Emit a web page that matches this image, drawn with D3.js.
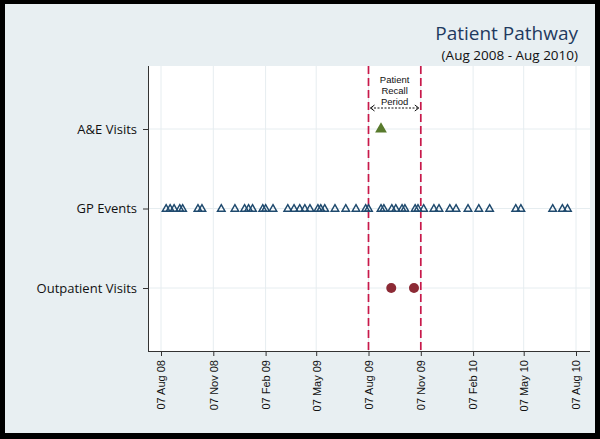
<!DOCTYPE html>
<html>
<head>
<meta charset="utf-8">
<script src="https://cdn.jsdelivr.net/npm/d3@7"></script>
<style>
  body { margin: 0; background: #000; }
  svg { display: block; }
</style>
</head>
<body>
<script>
// canvas size
const width = 600;
const height = 439;

// plot area margins
const margin = { top: 66, right: 10, bottom: 88, left: 148 };

// rows of the y axis (top to bottom)
const rows = ['A&E Visits', 'GP Events', 'Outpatient Visits'];

// event dates
const aeDates = ['2009-08-29'];
const gpDates = [
  '2008-08-16', '2008-08-23', '2008-08-30', '2008-09-09', '2008-09-14',
  '2008-10-11', '2008-10-18', '2008-11-21', '2008-12-15', '2009-01-01',
  '2009-01-08', '2009-01-15', '2009-02-02', '2009-02-07', '2009-02-20',
  '2009-03-18', '2009-03-29', '2009-04-08', '2009-04-17', '2009-04-26',
  '2009-05-10', '2009-05-15', '2009-05-22', '2009-06-09', '2009-06-28',
  '2009-07-16', '2009-08-02', '2009-08-07', '2009-08-29', '2009-09-03',
  '2009-09-17', '2009-09-24', '2009-10-05', '2009-10-10', '2009-10-28',
  '2009-11-02', '2009-11-12', '2009-11-30', '2009-12-09', '2009-12-28',
  '2010-01-08', '2010-01-29', '2010-02-17', '2010-03-08', '2010-04-23',
  '2010-05-02', '2010-06-27', '2010-07-14', '2010-07-23'
];
const outpatientDates = ['2009-09-16', '2009-10-26'];

// recall period limits
const recallPeriod = ['2009-08-07', '2009-11-07'];
const recallLabel = ['Patient', 'Recall', 'Period'];

// x tick dates
const tickDates = [
  '2008-08-07', '2008-11-07', '2009-02-07', '2009-05-07', '2009-08-07',
  '2009-11-07', '2010-02-07', '2010-05-07', '2010-08-07'
];

const parse = d3.timeParse('%Y-%m-%d');

const svg = d3.select('body').append('svg')
  .attr('width', width).attr('height', height);

// background panel inside the black frame
svg.append('rect')
  .attr('x', 5).attr('y', 4)
  .attr('width', 590).attr('height', 429)
  .attr('fill', '#e8eff2');

const plotW = width - margin.left - margin.right;
const plotH = height - margin.top - margin.bottom;

svg.append('rect')
  .attr('x', margin.left).attr('y', margin.top)
  .attr('width', plotW).attr('height', plotH)
  .attr('fill', '#ffffff');

const x = d3.scaleTime()
  .domain([parse('2008-08-07'), parse('2010-08-07')])
  .range([161, 576]);

const y = d3.scalePoint()
  .domain(rows)
  .range([margin.top + 63, margin.top + 222]);

const g = svg.append('g');

// grid lines
g.selectAll('.vgrid')
  .data(tickDates)
  .enter()
  .append('line')
  .attr('x1', d => x(parse(d))).attr('x2', d => x(parse(d)))
  .attr('y1', margin.top).attr('y2', margin.top + plotH)
  .attr('stroke', '#e6edf0').attr('stroke-width', 1);

g.selectAll('.hgrid')
  .data(rows)
  .enter()
  .append('line')
  .attr('x1', margin.left).attr('x2', margin.left + plotW)
  .attr('y1', d => y(d)).attr('y2', d => y(d))
  .attr('stroke', '#e6edf0').attr('stroke-width', 1);

// x axis
const xAxis = svg.append('g')
  .attr('transform', `translate(0,${margin.top + plotH})`)
  .call(d3.axisBottom(x)
    .tickValues(tickDates.map(parse))
    .tickFormat(d3.timeFormat('%d %b %y'))
    .tickSize(5)
    .tickSizeOuter(0));
xAxis.select('.domain')
  .attr('d', `M${margin.left},0.5H${margin.left + plotW}`)
  .attr('stroke', '#333');
xAxis.selectAll('.tick line').attr('stroke', '#333');
xAxis.selectAll('.tick text')
  .attr('font-family', 'Liberation Sans, Arial, sans-serif')
  .attr('font-size', '11px')
  .attr('fill', '#111')
  .attr('transform', 'rotate(-90)')
  .attr('text-anchor', 'end')
  .attr('x', -9)
  .attr('y', 0)
  .attr('dy', '0.35em');

// y axis
const yAxis = svg.append('g')
  .attr('transform', `translate(${margin.left},0)`)
  .call(d3.axisLeft(y).tickSize(5).tickSizeOuter(0).tickPadding(6));
yAxis.select('.domain')
  .attr('d', `M0.5,${margin.top}V${margin.top + plotH}`)
  .attr('stroke', '#333');
yAxis.selectAll('.tick line').attr('stroke', '#333');
yAxis.selectAll('.tick text')
  .attr('font-family', 'Open Sans, Noto Sans, sans-serif')
  .attr('font-size', '13px')
  .attr('fill', '#111');

// recall period lines
svg.selectAll('.recall')
  .data(recallPeriod)
  .enter()
  .append('line')
  .attr('x1', d => x(parse(d))).attr('x2', d => x(parse(d)))
  .attr('y1', margin.top).attr('y2', margin.top + plotH)
  .attr('stroke', '#c8194a')
  .attr('stroke-width', 1.7)
  .attr('stroke-dasharray', '8,4');

// recall annotation, one text per line
const x0 = x(parse(recallPeriod[0]));
const x1 = x(parse(recallPeriod[1]));
const xm = (x0 + x1) / 2;
svg.selectAll('.recall-label')
  .data(recallLabel)
  .enter()
  .append('text')
  .attr('x', xm)
  .attr('y', (d, i) => 83 + i * 11)
  .attr('text-anchor', 'middle')
  .attr('font-family', 'Liberation Sans, Arial, sans-serif')
  .attr('font-size', '9.5px')
  .attr('fill', '#111')
  .text(d => d);

svg.append('line')
  .attr('x1', x0 + 2).attr('x2', x1 - 2)
  .attr('y1', 108).attr('y2', 108)
  .attr('stroke', '#111').attr('stroke-width', 1)
  .attr('stroke-dasharray', '2,1.5');
svg.append('path')
  .attr('d', `M${x0 + 6},105 L${x0 + 2},108 L${x0 + 6},111 M${x1 - 6},105 L${x1 - 2},108 L${x1 - 6},111`)
  .attr('fill', 'none').attr('stroke', '#111').attr('stroke-width', 1);

// GP events: open triangles
const tri = d3.symbol().type(d3.symbolTriangle).size(24);
svg.selectAll('.gp')
  .data(gpDates)
  .enter()
  .append('path')
  .attr('d', tri)
  .attr('transform', d => `translate(${x(parse(d))},${y('GP Events') + 0.5})`)
  .attr('fill', 'none')
  .attr('stroke', '#1f4a6e')
  .attr('stroke-width', 1.5);

// A&E: filled green triangles
svg.selectAll('.ae')
  .data(aeDates)
  .enter()
  .append('path')
  .attr('d', d3.symbol().type(d3.symbolTriangle).size(60))
  .attr('transform', d => `translate(${x(parse(d))},${y('A&E Visits')})`)
  .attr('fill', '#587a2c');

// Outpatient: filled red circles
svg.selectAll('.op')
  .data(outpatientDates)
  .enter()
  .append('circle')
  .attr('cx', d => x(parse(d)))
  .attr('cy', y('Outpatient Visits'))
  .attr('r', 5)
  .attr('fill', '#8c2a35');

// titles
svg.append('text')
  .attr('x', 578).attr('y', 40)
  .attr('text-anchor', 'end')
  .attr('font-family', 'Open Sans, Noto Sans, sans-serif')
  .attr('font-size', '19px')
  .attr('fill', '#1f3a5f')
  .text('Patient Pathway');
svg.append('text')
  .attr('x', 578).attr('y', 60)
  .attr('text-anchor', 'end')
  .attr('font-family', 'Open Sans, Noto Sans, sans-serif')
  .attr('font-size', '13.5px')
  .attr('fill', '#111')
  .text('(Aug 2008 - Aug 2010)');
</script>
</body>
</html>
